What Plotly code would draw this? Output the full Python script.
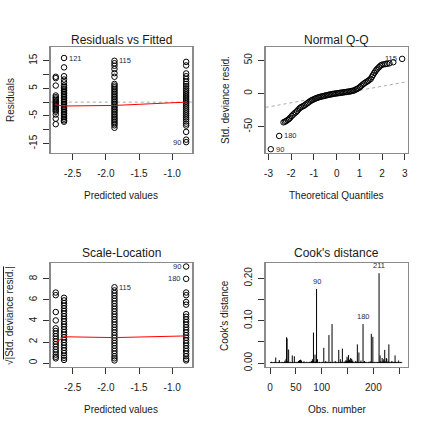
import plotly.graph_objects as go

# ---------------- data ----------------
fitted_levels = [-2.755, -2.63, -1.87, -0.79]

resid_col1 = [9.2, 8.7, 6.0, 2.4, 1.8, 1.3, 0.8, 0.3, -0.2, -0.7, -1.2, -1.6, -2.1,
              -2.6, -3.0, -3.5, -4.5, -6.0, -8.0]
resid_col2 = [16.0, 12.6, 9.4, 8.2, 7.2, 6.0, 5.4, 4.8, 4.2, 3.6, 3.0, 2.4, 1.8, 1.2,
              0.6, 0.0, -0.6, -1.2, -1.8, -2.4, -3.0, -3.6, -4.2, -4.8, -5.4, -6.0,
              -6.6, -7.1]
resid_col3 = [15.0, 14.1, 13.2, 12.0, 10.5, 9.2, 6.6, 6.0, 5.4, 4.8, 4.2, 3.6, 3.0,
              2.4, 1.8, 1.2, 0.6, 0.0, -0.6, -1.2, -1.8, -2.4, -3.0, -3.6, -4.2,
              -4.8, -5.4, -6.0, -6.6, -7.2, -7.8, -8.4, -9.3]
resid_col4 = [14.6, 13.3, 10.4, 9.4, 8.4, 7.4, 6.6, 5.8, 5.0, 4.3, 3.6, 2.9, 2.2,
              1.5, 0.8, 0.1, -0.6, -1.3, -2.0, -2.7, -3.4, -4.1, -4.8, -5.5, -6.2,
              -7.0, -7.8, -8.5, -10.8, -13.6, -14.5]
resid_smooth = [-1.0, -1.4, -1.2, 0.0]

sqrt_col1 = [6.7, 6.45, 4.85, 4.05, 3.3, 3.05, 2.8, 2.55, 2.3, 2.05, 1.8, 1.55, 1.3,
             1.05, 0.8, 0.6, 0.45]
sqrt_col2 = [6.2, 5.95, 5.7, 5.45, 5.2, 4.95, 4.7, 4.45, 4.2, 3.95, 3.7, 3.45, 3.2,
             2.95, 2.7, 2.45, 2.2, 1.95, 1.7, 1.45, 1.2, 0.95, 0.7, 0.5, 0.3]
sqrt_col3 = [7.2, 6.9, 6.65, 6.4, 6.15, 5.9, 5.65, 5.4, 5.15, 4.9, 4.65, 4.4, 4.15,
             3.9, 3.65, 3.4, 3.15, 2.9, 2.65, 2.4, 2.15, 1.9, 1.65, 1.4, 1.15, 0.9,
             0.65, 0.45, 0.25]
sqrt_col4 = [9.17, 8.0, 6.7, 6.45, 5.8, 5.55, 4.65, 4.4, 4.15, 3.9, 3.65, 3.4, 3.15,
             2.9, 2.65, 2.4, 2.15, 1.9, 1.65, 1.4, 1.15, 0.9, 0.65, 0.4, 0.25]
sqrt_smooth = [1.95, 2.5, 2.42, 2.58]

qq_theoretical = [-2.90, -2.53, -2.34, -2.28, -2.22, -2.16, -2.10, -2.04, -1.98, -1.92,
                  -1.86, -1.80, -1.74, -1.68, -1.62, -1.56, -1.50, -1.44, -1.38, -1.32,
                  -1.26, -1.20, -1.14, -1.08, -1.02, -0.96, -0.90, -0.84, -0.78, -0.72,
                  -0.66, -0.60, -0.54, -0.48, -0.42, -0.36, -0.30, -0.24, -0.18, -0.12,
                  -0.06, 0.00, 0.06, 0.12, 0.18, 0.24, 0.30, 0.36, 0.42, 0.48,
                  0.54, 0.60, 0.66, 0.72, 0.78, 0.84, 0.90, 0.96, 1.02, 1.08,
                  1.14, 1.20, 1.26, 1.32, 1.38, 1.44, 1.50, 1.55, 1.60, 1.65,
                  1.70, 1.75, 1.80, 1.86, 1.92, 1.98, 2.06, 2.14, 2.22, 2.32,
                  2.49, 2.88]
qq_sample = [-84, -64, -43.5, -42.5, -41.5, -40, -38.5, -36.5, -34, -32,
             -30, -28.5, -26.5, -24, -22, -20.5, -19.5, -18.5, -17, -15.5,
             -14, -12.5, -11, -10, -9, -8, -7.2, -6.4, -5.7, -5.1,
             -4.6, -4.1, -3.6, -3.1, -2.6, -2.1, -1.7, -1.3, -0.9, -0.5,
             -0.2, 0.1, 0.4, 0.7, 1.0, 1.3, 1.6, 1.9, 2.2, 2.5,
             2.8, 3.2, 3.6, 4.1, 4.7, 6.0, 6.8, 8.0, 9.6, 11.4,
             13.3, 14.8, 16.2, 17.6, 18.8, 20.5, 22.0, 25.0, 28.0, 30.8,
             33.2, 35.5, 37.5, 39.5, 41.5, 43.0, 43.8, 44.2, 44.6, 45.3,
             47.0, 52.0]
qq_line_intercept = -1.6
qq_line_slope = 6.22

cook_d = [
    0.002, 0.001, 0.003, 0.001, 0.002, 0.001, 0.002, 0.001, 0.003, 0.002,
    0.013, 0.002, 0.001, 0.002, 0.001, 0.003, 0.001, 0.007, 0.002, 0.001,
    0.002, 0.001, 0.003, 0.002, 0.001, 0.002, 0.001, 0.003, 0.006, 0.002,
    0.010, 0.061, 0.058, 0.004, 0.003, 0.032, 0.002, 0.001, 0.003, 0.002,
    0.001, 0.002, 0.018, 0.003, 0.001, 0.002, 0.016, 0.002, 0.001, 0.003,
    0.002, 0.001, 0.002, 0.003, 0.005, 0.002, 0.007, 0.003, 0.008, 0.004,
    0.006, 0.002, 0.001, 0.002, 0.003, 0.004, 0.001, 0.002, 0.001, 0.002,
    0.003, 0.001, 0.002, 0.001, 0.002, 0.003, 0.001, 0.002, 0.003, 0.005,
    0.002, 0.009, 0.003, 0.072, 0.004, 0.002, 0.020, 0.003, 0.002, 0.175,
    0.003, 0.009, 0.002, 0.001, 0.002, 0.003, 0.001, 0.002, 0.001, 0.002,
    0.003, 0.002, 0.001, 0.036, 0.002, 0.001, 0.003, 0.005, 0.002, 0.001,
    0.002, 0.003, 0.001, 0.066, 0.002, 0.001, 0.003, 0.002, 0.001, 0.092,
    0.002, 0.003, 0.001, 0.002, 0.001, 0.005, 0.002, 0.003, 0.001, 0.002,
    0.001, 0.003, 0.031, 0.002, 0.001, 0.009, 0.002, 0.003, 0.001, 0.034,
    0.002, 0.001, 0.003, 0.002, 0.004, 0.003, 0.007, 0.004, 0.015, 0.005,
    0.011, 0.019, 0.006, 0.008, 0.004, 0.012, 0.005, 0.010, 0.003, 0.006,
    0.002, 0.003, 0.001, 0.002, 0.003, 0.005, 0.002, 0.003, 0.044, 0.002,
    0.003, 0.025, 0.002, 0.001, 0.003, 0.006, 0.002, 0.001, 0.002, 0.092,
    0.002, 0.003, 0.005, 0.001, 0.002, 0.003, 0.001, 0.002, 0.001, 0.002,
    0.003, 0.001, 0.002, 0.004, 0.002, 0.069, 0.003, 0.002, 0.062, 0.002,
    0.001, 0.002, 0.003, 0.001, 0.002, 0.001, 0.003, 0.002, 0.001, 0.002,
    0.212, 0.003, 0.018, 0.004, 0.002, 0.003, 0.012, 0.004, 0.002, 0.009,
    0.003, 0.031, 0.004, 0.002, 0.012, 0.010, 0.003, 0.002, 0.004, 0.044,
    0.002, 0.003, 0.001, 0.002, 0.003, 0.005, 0.002, 0.001, 0.002, 0.003,
    0.002, 0.018, 0.003, 0.001, 0.002, 0.003, 0.001, 0.002, 0.006, 0.002,
    0.001, 0.002, 0.003, 0.001, 0.002]
cook_ids = [90, 180, 211]

titles = ["Residuals vs Fitted", "Normal Q-Q", "Scale-Location", "Cook's distance"]
xlabels = ["Predicted values", "Theoretical Quantiles", "Predicted values", "Obs. number"]
ylabels = ["Residuals", "Std. deviance resid.",
           "\u221a<span style='text-decoration:overline'>|Std. deviance resid.|</span>",
           "Cook's distance"]

# ---------------- styling ----------------
FONT = "Liberation Sans, Arial, Helvetica, sans-serif"
TXT = "#1a1a1a"
W = H = 432.0

boxes = [  # (x0, x1, ytop, ybottom) in pixels
    (49, 191, 47.7, 154.3),
    (265, 407.5, 47.7, 154.3),
    (49, 191, 265.5, 370.3),
    (265, 407.5, 265.5, 370.3),
]
title_centers = [40, 40, 255.5, 255.5]

fig = go.Figure()
mk = dict(symbol="circle-open", size=5.5, color="black", line=dict(width=1, color="black"))


def scatter_cols(cols, xa, ya):
    for xv, col in zip(fitted_levels, cols):
        fig.add_trace(go.Scatter(x=[xv] * len(col), y=col, mode="markers", marker=mk,
                                 xaxis=xa, yaxis=ya, showlegend=False, hoverinfo="skip"))


# Panel 1: residuals vs fitted
fig.add_trace(go.Scatter(x=[-2.83, -0.70], y=[0, 0], mode="lines",
                         line=dict(color="#aaaaaa", width=1, dash="dot"),
                         xaxis="x", yaxis="y", showlegend=False))
scatter_cols([resid_col1, resid_col2, resid_col3, resid_col4], "x", "y")
fig.add_trace(go.Scatter(x=fitted_levels, y=resid_smooth, mode="lines",
                         line=dict(color="red", width=1), xaxis="x", yaxis="y",
                         showlegend=False))

# Panel 2: QQ
qx_rng = [-3.12, 3.12]
fig.add_trace(go.Scatter(x=qx_rng, y=[qq_line_intercept + qq_line_slope * v for v in qx_rng],
                         mode="lines", line=dict(color="#aaaaaa", width=1, dash="dot"),
                         xaxis="x2", yaxis="y2", showlegend=False))
fig.add_trace(go.Scatter(x=qq_theoretical, y=qq_sample, mode="markers", marker=mk,
                         xaxis="x2", yaxis="y2", showlegend=False))

# Panel 3: scale-location
scatter_cols([sqrt_col1, sqrt_col2, sqrt_col3, sqrt_col4], "x3", "y3")
fig.add_trace(go.Scatter(x=fitted_levels, y=sqrt_smooth, mode="lines",
                         line=dict(color="red", width=1), xaxis="x3", yaxis="y3",
                         showlegend=False))

# Panel 4: Cook's distance
cx, cy = [], []
for i, v in enumerate(cook_d, start=1):
    cx += [i, i, None]
    cy += [0, v, None]
fig.add_trace(go.Scatter(x=cx, y=cy, mode="lines", line=dict(color="black", width=1),
                         xaxis="x4", yaxis="y4", showlegend=False))

# ---------------- axes ----------------
ranges = [
    ([-2.83, -0.70], [-18.4, 19.9]),
    ([-3.12, 3.12], [-89.5, 69.5]),
    ([-2.83, -0.70], [-0.36, 9.5]),
    ([-8.3, 266.3], [-0.009, 0.236]),
]
xticks = [
    ([-2.5, -2.0, -1.5, -1.0], ["-2.5", "-2.0", "-1.5", "-1.0"]),
    ([-3, -2, -1, 0, 1, 2, 3], ["-3", "-2", "-1", "0", "1", "2", "3"]),
    ([-2.5, -2.0, -1.5, -1.0], ["-2.5", "-2.0", "-1.5", "-1.0"]),
    ([0, 50, 100, 150, 200, 250], ["0", "50", "100", "", "200", ""]),
]
yticks = [
    ([-15, -10, -5, 0, 5, 10, 15], ["-15", "", "-5", "", "5", "", "15"]),
    ([-50, 0, 50], ["-50", "0", "50"]),
    ([0, 2, 4, 6, 8], ["0", "2", "4", "6", "8"]),
    ([0, 0.05, 0.10, 0.15, 0.20], ["0.00", "", "0.10", "", "0.20"]),
]

common = dict(showline=True, mirror=True, linecolor="#8a8a8a", linewidth=1.5,
              ticks="outside", ticklen=6, tickwidth=1, tickcolor="#333333",
              showgrid=False, zeroline=False,
              tickfont=dict(family=FONT, size=10, color=TXT))

annotations = []
for k, (b, (xr, yr), (xtv, xtt), (ytv, ytt)) in enumerate(zip(boxes, ranges, xticks, yticks)):
    x0, x1, yt, yb = b
    sfx = "" if k == 0 else str(k + 1)
    fig.layout["xaxis" + sfx] = dict(domain=[x0 / W, x1 / W], range=xr, anchor="y" + sfx,
                                     tickmode="array", tickvals=xtv, ticktext=xtt,
                                     ticklabelstandoff=5, **common)
    fig.layout["yaxis" + sfx] = dict(domain=[1 - yb / H, 1 - yt / H], range=yr,
                                     anchor="x" + sfx, tickmode="array", tickvals=ytv,
                                     ticktext=ytt, tickangle=-90, ticklabelstandoff=2,
                                     **common)
    cxp = (x0 + x1) / 2 / W
    annotations.append(dict(text=titles[k], x=cxp, y=1 - title_centers[k] / H, xref="paper",
                            yref="paper", showarrow=False, xanchor="center",
                            yanchor="middle", font=dict(family=FONT, size=12, color=TXT)))
    annotations.append(dict(text=xlabels[k], x=cxp, y=1 - (yb + 43) / H, xref="paper",
                            yref="paper", showarrow=False, xanchor="center",
                            yanchor="middle", font=dict(family=FONT, size=10, color=TXT)))
    annotations.append(dict(text=ylabels[k], x=(x0 - 41) / W, y=1 - (yt + yb) / 2 / H,
                            xref="paper", yref="paper", showarrow=False, textangle=-90,
                            xanchor="center", yanchor="middle",
                            font=dict(family=FONT, size=10, color=TXT)))

IDF = dict(family=FONT, size=7.5, color="#222a4a")


def id_label(text, x, y, xa, ya, side):
    annotations.append(dict(text=text, x=x, y=y, xref=xa, yref=ya, showarrow=False,
                            xanchor="left" if side == "right" else "right",
                            yanchor="middle", xshift=3 if side == "right" else -3,
                            font=IDF))


id_label("121", fitted_levels[1], resid_col2[0], "x", "y", "right")
id_label("115", fitted_levels[2], resid_col3[0], "x", "y", "right")
id_label("90", fitted_levels[3], resid_col4[-1], "x", "y", "left")
id_label("115", qq_theoretical[-1], qq_sample[-1], "x2", "y2", "left")
id_label("180", qq_theoretical[1], qq_sample[1], "x2", "y2", "right")
id_label("90", qq_theoretical[0], qq_sample[0], "x2", "y2", "right")
id_label("115", fitted_levels[2], sqrt_col3[0], "x3", "y3", "right")
id_label("90", fitted_levels[3], sqrt_col4[0], "x3", "y3", "left")
id_label("180", fitted_levels[3], sqrt_col4[1], "x3", "y3", "left")
for oid in cook_ids:
    annotations.append(dict(text=str(oid), x=oid, y=cook_d[oid - 1], xref="x4", yref="y4",
                            showarrow=False, xanchor="center", yanchor="bottom", yshift=1,
                            font=IDF))

fig.update_layout(width=432, height=432, margin=dict(l=0, r=0, t=0, b=0),
                  paper_bgcolor="white", plot_bgcolor="white", showlegend=False,
                  annotations=annotations, font=dict(family=FONT, color=TXT))

fig.write_html("out.html", config={"displayModeBar": False, "staticPlot": True},
               post_script="document.body.style.margin='0';"
                           "document.body.style.overflow='hidden';")
